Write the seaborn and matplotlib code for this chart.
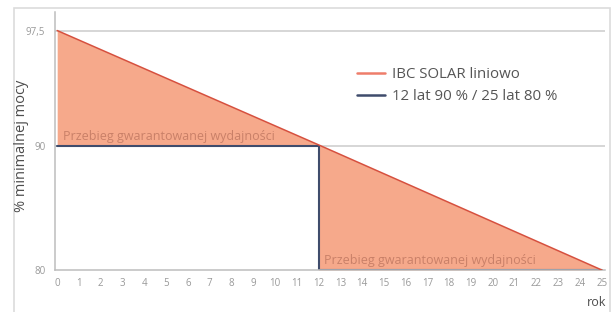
import numpy as np
import matplotlib
matplotlib.use("Agg")
import matplotlib.pyplot as plt
import matplotlib.patches as patches
from matplotlib.lines import Line2D
import seaborn as sns

# data
years_red = [0, 12, 25]
power_red = [97.5, 90.1, 80]
years_blue = [0, 12, 12, 25]
power_blue = [90, 90, 80, 80]
red_at_blue = [97.5, 90.1, 90.1, 80]
x_ticks = list(range(0, 26))
y_ticks = [80, 90, 97.5]
y_tick_labels = ["80", "90", "97,5"]
label_red = "IBC SOLAR liniowo"
label_blue = "12 lat 90 % / 25 lat 80 %"
note = "Przebieg gwarantowanej wydajności"

sns.set_theme(style="white")
plt.rcParams["font.family"] = ["Open Sans", "DejaVu Sans"]

red_line = "#d6503e"
red_legend = "#ee7d6a"
fill_col = "#f6a98b"
blue_col = "#3f4c6c"
grey_text = "#999999"
dark_text = "#555555"
grid_col = "#cfcfcf"


# stylised axis: 80-90 is squeezed compared to 90-97.5
def fwd(y):
    y = np.asarray(y, dtype=float)
    return np.where(y <= 90, (y - 80) * 12.4, 124 + (y - 90) * 15.5)


def inv(v):
    v = np.asarray(v, dtype=float)
    return np.where(v <= 124, 80 + v / 12.4, 90 + (v - 124) / 15.5)


fig = plt.figure(figsize=(6.15, 3.12), dpi=100)
ax = fig.add_axes([55 / 615, 1 - 270 / 312, 550 / 615, 258 / 312])
ax.set_yscale("function", functions=(fwd, inv))

for yv in [90, 97.5]:
    ax.axhline(yv, color=grid_col, lw=1.2, zorder=0)

ax.fill_between(years_blue, red_at_blue, power_blue, color=fill_col, lw=0, zorder=1)
sns.lineplot(x=years_red, y=power_red, color=red_line, lw=1.1, ax=ax,
             estimator=None, sort=False, zorder=3)
sns.lineplot(x=years_blue, y=power_blue, color=blue_col, lw=1.5, ax=ax,
             estimator=None, sort=False, zorder=2)

ax.text(0.25, 90.2, note, color="#c98068", fontsize=9, ha="left", va="bottom")
ax.text(12.25, 80.25, note, color="#c98068", fontsize=9, ha="left", va="bottom")

ax.set_xlim(-0.1, 25.15)
ax.set_ylim(80, 98.7)
ax.set_xticks(x_ticks)
ax.set_xticklabels([str(v) for v in x_ticks])
ax.set_yticks(y_ticks)
ax.set_yticklabels(y_tick_labels)
ax.yaxis.set_minor_locator(matplotlib.ticker.NullLocator())
ax.tick_params(axis="both", labelsize=7, colors=grey_text, length=3, width=0.8, pad=4)
ax.tick_params(axis="x", direction="inout", length=4)
for s in ["top", "right"]:
    ax.spines[s].set_visible(False)
for s in ["left", "bottom"]:
    ax.spines[s].set_color("#bdbdbd")
    ax.spines[s].set_linewidth(1.1)
ax.set_xlabel("")
ax.set_ylabel("")

handles = [Line2D([0], [0], color=red_legend, lw=1.8),
           Line2D([0], [0], color=blue_col, lw=1.8)]
leg = fig.legend(handles, [label_red, label_blue], loc="upper left",
                 bbox_to_anchor=(343 / 615, 1 - 54 / 312), frameon=False,
                 prop={"size": 10.8}, handlelength=1.9,
                 handletextpad=0.45, labelspacing=0.45)
for t in leg.get_texts():
    t.set_color(dark_text)

fig.text(22 / 615, 1 - 146 / 312, "% minimalnej mocy", rotation=90, ha="center",
         va="center", fontsize=10.5, color="#4d4d4d")
fig.text(606 / 615, 1 - 302 / 312, "rok", ha="right", va="center", fontsize=9,
         color="#4d4d4d")

frame = patches.Rectangle((14 / 615, -0.1), 596 / 615, 1.1 - 8 / 312, transform=fig.transFigure,
                          fill=False, edgecolor="#dcdcdc", lw=1.2)
fig.patches.append(frame)

fig.savefig("out.png", dpi=100)
